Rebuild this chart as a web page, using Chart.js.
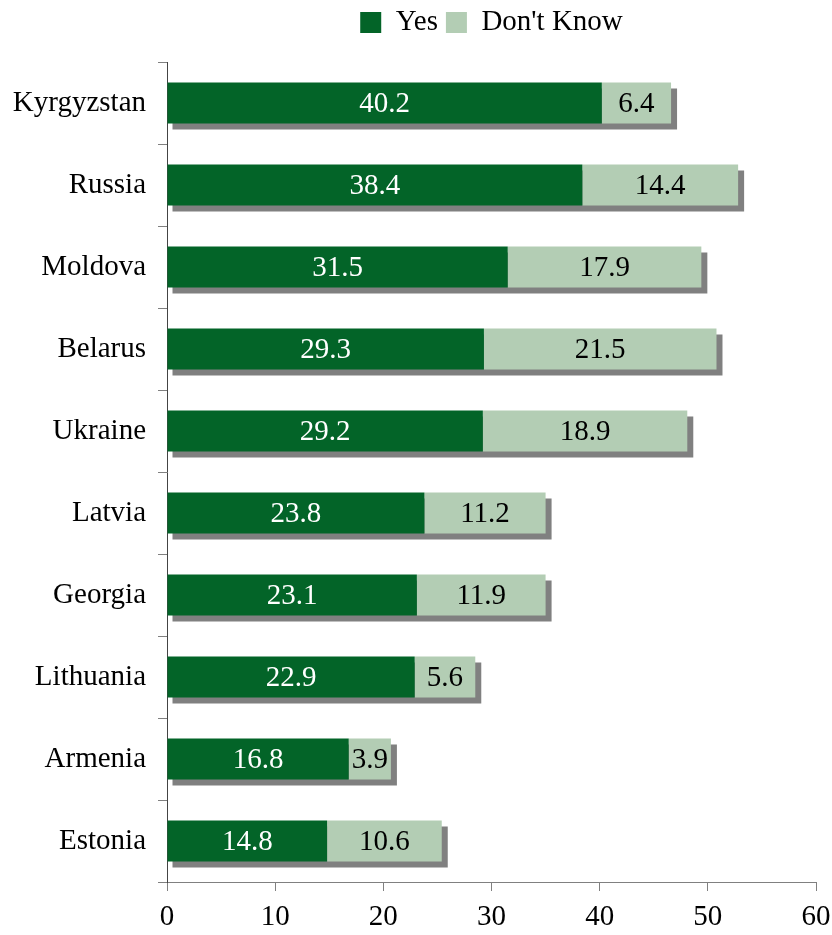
<!DOCTYPE html>
<html>
<head>
<meta charset="utf-8">
<script src="https://cdn.jsdelivr.net/npm/chart.js@4"></script>
<style>
  html, body { margin: 0; padding: 0; background: #fff; }
  #wrap { width: 832px; height: 935px; }
</style>
</head>
<body>
<div id="wrap"><canvas id="survey-canvas"></canvas></div>
<script>
// Data

const countries = ["Kyrgyzstan", "Russia", "Moldova", "Belarus", "Ukraine",
                   "Latvia", "Georgia", "Lithuania", "Armenia", "Estonia"];
const yesValues = [40.2, 38.4, 31.5, 29.3, 29.2, 23.8, 23.1, 22.9, 16.8, 14.8];
const dontKnowValues = [6.4, 14.4, 17.9, 21.5, 18.9, 11.2, 11.9, 5.6, 3.9, 10.6];
const xTicks = [0, 10, 20, 30, 40, 50, 60];

const serif = "'Liberation Serif', 'Times New Roman', serif";
const fontSize = 29;

// Fixed legend band height so the plot starts at the same place every time
const legendBand = {
    id: 'legendBand',
    beforeInit(chart) {
        const legend = chart.legend;
        if (!legend) return;
        const fit = legend.fit;
        legend.fit = function () {
            fit.call(this);
            this.height = 62;
        };
    }
};

// Gray drop shadow behind each whole bar
const barShadow = {
    id: 'barShadow',
    beforeDatasetsDraw(chart) {
        const ctx = chart.ctx,
              first = chart.getDatasetMeta(0),
              last = chart.getDatasetMeta(1);
        ctx.save();
        ctx.fillStyle = '#808080';
        first.data.forEach((bar, i) => {
            const end = last.data[i];
            const left = Math.min(bar.base, bar.x),
                  right = end.x,
                  top = bar.y - bar.height / 2;
            ctx.fillRect(left + 5, top + 6, right - left + 1, bar.height);
        });
        ctx.restore();
    }
};

// Value text in the middle of each segment
const barValues = {
    id: 'barValues',
    afterDatasetsDraw(chart) {
        const ctx = chart.ctx;
        ctx.save();
        ctx.font = fontSize + 'px ' + serif;
        ctx.textAlign = 'center';
        ctx.textBaseline = 'middle';
        chart.data.datasets.forEach((ds, d) => {
            chart.getDatasetMeta(d).data.forEach((bar, i) => {
                ctx.fillStyle = d === 0 ? '#ffffff' : '#000000';
                ctx.fillText(ds.data[i].toFixed(1), (bar.x + bar.base) / 2, bar.y + 1);
            });
        });
        ctx.restore();
    }
};

const surveyCanvas = document.getElementById('survey-canvas');

let surveyChart = new Chart(surveyCanvas, {
    type: 'bar',
    data: {
        labels: countries,
        datasets: [{
            label: 'Yes',
            data: yesValues,
            backgroundColor: '#036428',
            borderWidth: 0
        }, {
            label: "Don't Know",
            data: dontKnowValues,
            backgroundColor: '#b3cdb4',
            borderWidth: 0
        }]
    },
    options: {
        indexAxis: 'y',
        responsive: true,
        maintainAspectRatio: false,
        animation: false,
        categoryPercentage: 0.5,
        barPercentage: 1,
        layout: { padding: { top: 0, right: 0, left: 0, bottom: 0 } },
        plugins: {
            tooltip: { enabled: false },
            legend: {
                position: 'top',
                fullSize: false,
                labels: {
                    boxWidth: 21,
                    boxHeight: 21,
                    padding: 8,
                    color: '#000',
                    font: { family: serif, size: fontSize }
                }
            }
        },
        scales: {
            x: {
                stacked: true,
                min: 0,
                max: 60,
                afterBuildTicks: (scale) => {
                    scale.ticks = xTicks.map(v => ({ value: v }));
                },
                grid: { drawOnChartArea: false, tickLength: 9, color: '#808080' },
                border: { color: '#808080' },
                ticks: {
                    color: '#000',
                    padding: 9,
                    font: { family: serif, size: fontSize }
                },
                afterFit: (scale) => {
                    scale.height = 53;
                    scale.paddingRight = 16;
                }
            },
            y: {
                stacked: true,
                grid: { drawOnChartArea: false, offset: true, tickLength: 9, color: '#808080' },
                border: { color: '#444' },
                ticks: {
                    color: '#000',
                    padding: 12,
                    font: { family: serif, size: fontSize }
                },
                afterFit: (scale) => { scale.width = 167; }
            }
        }
    },
    plugins: [legendBand, barShadow, barValues]
});
</script>
</body>
</html>
